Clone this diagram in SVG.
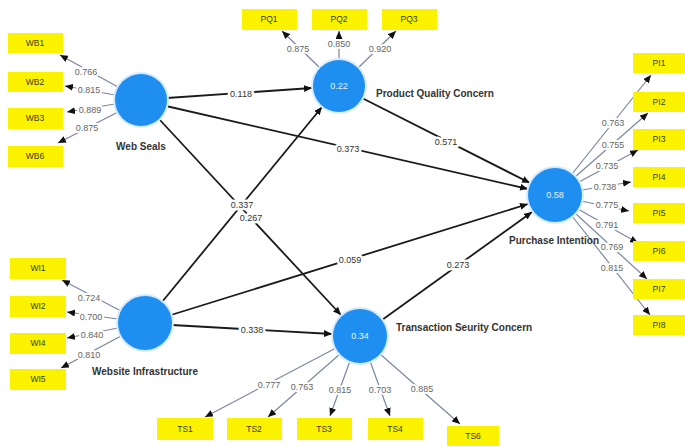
<svg xmlns="http://www.w3.org/2000/svg" width="685" height="447" viewBox="0 0 685 447">
<style>
.bg{fill:#ffffff}
.ind rect{fill:#fbf200}
.ind text{font-family:"Liberation Sans",Arial,sans-serif;font-size:8.5px;fill:#3a3a1a;text-anchor:middle}
.lv circle.halo{fill:#d6ebff}
.lv circle.core{fill:#1e8ff0}
.lv text.val{font-family:"Liberation Sans",Arial,sans-serif;font-size:9px;fill:#e8f3ff;text-anchor:middle}
.lv text.name{font-family:"Liberation Sans",Arial,sans-serif;font-size:10px;font-weight:bold;fill:#333}
.path{stroke:#1a1a1a;stroke-width:1.8;fill:none;marker-end:url(#ah)}
.load{stroke:#7a86a2;stroke-width:1.2;fill:none;marker-end:url(#ah)}
.pl{font-family:"Liberation Sans",Arial,sans-serif;font-size:9px;fill:#333;text-anchor:middle;stroke:#fff;stroke-width:5px;paint-order:stroke;stroke-linejoin:round}
.ll{font-family:"Liberation Sans",Arial,sans-serif;font-size:9px;fill:#666;text-anchor:middle;stroke:#fff;stroke-width:4px;paint-order:stroke;stroke-linejoin:round}
</style>
<defs>
<marker id="ah" viewBox="0 0 8 7" refX="8" refY="3.5" markerWidth="8" markerHeight="7" markerUnits="userSpaceOnUse" orient="auto">
<path d="M0,0 L8,3.5 L0,7 z" fill="#111"/>
</marker>
</defs>
<rect class="bg" x="0" y="0" width="685" height="447"/>

<g id="connectors">
<!-- structural paths -->
<line class="path" x1="167" y1="98" x2="312" y2="88"/>
<line class="path" x1="166" y1="106" x2="528" y2="189"/>
<line class="path" x1="362" y1="98" x2="530" y2="183"/>
<line class="path" x1="159" y1="119" x2="341" y2="315"/>
<line class="path" x1="162" y1="302" x2="322" y2="107"/>
<line class="path" x1="171" y1="315" x2="528" y2="204"/>
<line class="path" x1="172" y1="325" x2="332" y2="334"/>
<line class="path" x1="382" y1="320" x2="532" y2="212"/>
<!-- loadings WS -->
<line class="load" x1="118" y1="87" x2="60" y2="55"/>
<line class="load" x1="115" y1="95" x2="65" y2="86"/>
<line class="load" x1="115" y1="104" x2="67" y2="112"/>
<line class="load" x1="118" y1="112" x2="58" y2="143"/>
<!-- loadings WI -->
<line class="load" x1="121" y1="311" x2="62" y2="280"/>
<line class="load" x1="118" y1="319" x2="67" y2="312"/>
<line class="load" x1="118" y1="328" x2="67" y2="338"/>
<line class="load" x1="121" y1="336" x2="61" y2="368"/>
<!-- loadings PQ -->
<line class="load" x1="320" y1="68" x2="282" y2="31"/>
<line class="load" x1="339" y1="60" x2="339" y2="31"/>
<line class="load" x1="358" y1="68" x2="396" y2="31"/>
<!-- loadings PI -->
<line class="load" x1="572" y1="174" x2="651" y2="75"/>
<line class="load" x1="575" y1="177" x2="648" y2="113"/>
<line class="load" x1="579" y1="182" x2="638" y2="150"/>
<line class="load" x1="582" y1="190" x2="631" y2="182"/>
<line class="load" x1="581" y1="201" x2="629" y2="211"/>
<line class="load" x1="578" y1="209" x2="638" y2="243"/>
<line class="load" x1="575" y1="213" x2="647" y2="279"/>
<line class="load" x1="572" y1="216" x2="650" y2="315"/>
<!-- loadings TS -->
<line class="load" x1="336" y1="348" x2="205" y2="417"/>
<line class="load" x1="340" y1="354" x2="268" y2="417"/>
<line class="load" x1="350" y1="361" x2="330" y2="416"/>
<line class="load" x1="370" y1="361" x2="390" y2="416"/>
<line class="load" x1="380" y1="354" x2="460" y2="424"/>
<!-- path labels -->
<text class="pl" x="241" y="97">0.118</text>
<text class="pl" x="348" y="152">0.373</text>
<text class="pl" x="446" y="145">0.571</text>
<text class="pl" x="251" y="221">0.267</text>
<text class="pl" x="242" y="208">0.337</text>
<text class="pl" x="350" y="263">0.059</text>
<text class="pl" x="252" y="333">0.338</text>
<text class="pl" x="458" y="268">0.273</text>
<!-- loading labels -->
<text class="ll" x="86" y="75">0.766</text>
<text class="ll" x="89" y="93">0.815</text>
<text class="ll" x="90" y="113">0.889</text>
<text class="ll" x="87" y="131">0.875</text>
<text class="ll" x="89" y="301">0.724</text>
<text class="ll" x="91" y="320">0.700</text>
<text class="ll" x="92" y="338">0.840</text>
<text class="ll" x="89" y="358">0.810</text>
<text class="ll" x="298" y="52">0.875</text>
<text class="ll" x="339" y="47">0.850</text>
<text class="ll" x="380" y="52">0.920</text>
<text class="ll" x="613" y="126">0.763</text>
<text class="ll" x="613" y="148">0.755</text>
<text class="ll" x="607" y="169">0.735</text>
<text class="ll" x="605" y="190">0.738</text>
<text class="ll" x="607" y="208">0.775</text>
<text class="ll" x="607" y="228">0.791</text>
<text class="ll" x="612" y="250">0.769</text>
<text class="ll" x="612" y="271">0.815</text>
<text class="ll" x="269" y="388">0.777</text>
<text class="ll" x="302" y="390">0.763</text>
<text class="ll" x="340" y="393">0.815</text>
<text class="ll" x="380" y="393">0.703</text>
<text class="ll" x="422" y="392">0.885</text>
</g>

<g id="web-seals" class="lv">
<circle class="halo" cx="141" cy="100" r="28"/>
<circle class="core" cx="141" cy="100" r="26"/>
<text class="name" x="141" y="150" text-anchor="middle">Web Seals</text>
</g>
<g id="website-infrastructure" class="lv">
<circle class="halo" cx="145" cy="323" r="29"/>
<circle class="core" cx="145" cy="323" r="27"/>
<text class="name" x="145" y="375" text-anchor="middle">Website Infrastructure</text>
</g>
<g id="product-quality-concern" class="lv">
<circle class="halo" cx="339" cy="86" r="28"/>
<circle class="core" cx="339" cy="86" r="26"/>
<text class="val" x="339" y="89">0.22</text>
<text class="name" x="376" y="97">Product Quality Concern</text>
</g>
<g id="transaction-security-concern" class="lv">
<circle class="halo" cx="360" cy="336" r="29"/>
<circle class="core" cx="360" cy="336" r="27"/>
<text class="val" x="360" y="339">0.34</text>
<text class="name" x="396" y="331">Transaction Seurity Concern</text>
</g>
<g id="purchase-intention" class="lv">
<circle class="halo" cx="555" cy="195" r="29"/>
<circle class="core" cx="555" cy="195" r="27"/>
<text class="val" x="555" y="198">0.58</text>
<text class="name" x="554" y="244" text-anchor="middle">Purchase Intention</text>
</g>

<g id="ind-WB1" class="ind"><rect x="8" y="33" width="55" height="20"/><text x="35" y="46">WB1</text></g>
<g id="ind-WB2" class="ind"><rect x="8" y="72" width="55" height="20"/><text x="35" y="85">WB2</text></g>
<g id="ind-WB3" class="ind"><rect x="8" y="108" width="55" height="21"/><text x="35" y="121">WB3</text></g>
<g id="ind-WB6" class="ind"><rect x="8" y="146" width="55" height="21"/><text x="35" y="159">WB6</text></g>

<g id="ind-WI1" class="ind"><rect x="10" y="258" width="56" height="21"/><text x="38" y="271">WI1</text></g>
<g id="ind-WI2" class="ind"><rect x="10" y="296" width="56" height="21"/><text x="38" y="309">WI2</text></g>
<g id="ind-WI4" class="ind"><rect x="10" y="333" width="56" height="21"/><text x="38" y="346">WI4</text></g>
<g id="ind-WI5" class="ind"><rect x="10" y="369" width="56" height="21"/><text x="38" y="382">WI5</text></g>

<g id="ind-PQ1" class="ind"><rect x="242" y="9" width="55" height="21"/><text x="269" y="22">PQ1</text></g>
<g id="ind-PQ2" class="ind"><rect x="312" y="9" width="55" height="21"/><text x="339" y="22">PQ2</text></g>
<g id="ind-PQ3" class="ind"><rect x="382" y="9" width="55" height="21"/><text x="409" y="22">PQ3</text></g>

<g id="ind-PI1" class="ind"><rect x="633" y="53" width="52" height="20"/><text x="659" y="66">PI1</text></g>
<g id="ind-PI2" class="ind"><rect x="633" y="92" width="52" height="20"/><text x="659" y="105">PI2</text></g>
<g id="ind-PI3" class="ind"><rect x="633" y="129" width="52" height="21"/><text x="659" y="142">PI3</text></g>
<g id="ind-PI4" class="ind"><rect x="633" y="167" width="52" height="20"/><text x="659" y="180">PI4</text></g>
<g id="ind-PI5" class="ind"><rect x="633" y="203" width="52" height="20"/><text x="659" y="216">PI5</text></g>
<g id="ind-PI6" class="ind"><rect x="633" y="241" width="52" height="20"/><text x="659" y="254">PI6</text></g>
<g id="ind-PI7" class="ind"><rect x="633" y="279" width="52" height="20"/><text x="659" y="292">PI7</text></g>
<g id="ind-PI8" class="ind"><rect x="633" y="315" width="52" height="20"/><text x="659" y="328">PI8</text></g>

<g id="ind-TS1" class="ind"><rect x="157" y="418" width="56" height="22"/><text x="185" y="432">TS1</text></g>
<g id="ind-TS2" class="ind"><rect x="227" y="418" width="55" height="22"/><text x="254" y="432">TS2</text></g>
<g id="ind-TS3" class="ind"><rect x="297" y="418" width="55" height="22"/><text x="324" y="432">TS3</text></g>
<g id="ind-TS4" class="ind"><rect x="368" y="418" width="55" height="22"/><text x="395" y="432">TS4</text></g>
<g id="ind-TS6" class="ind"><rect x="447" y="426" width="52" height="20"/><text x="473" y="439">TS6</text></g>
</svg>
